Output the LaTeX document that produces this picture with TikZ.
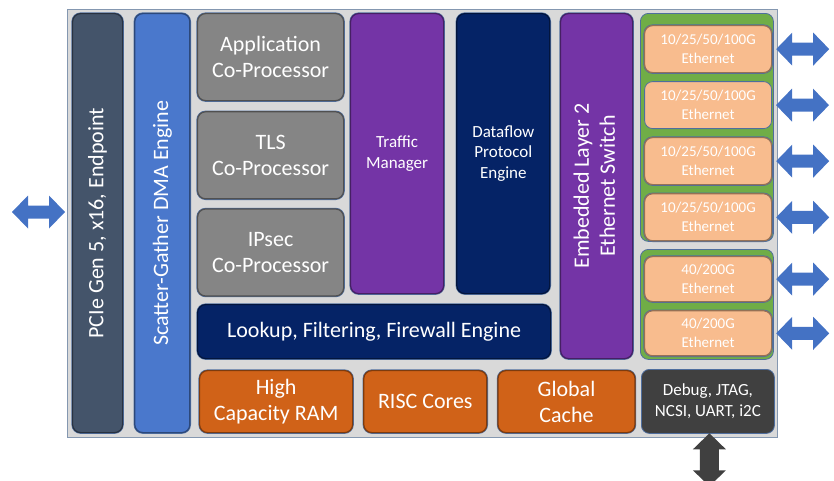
\documentclass[tikz,border=0pt]{standalone}
\usepackage{fontspec}
\setmainfont{Carlito}
\usepackage{graphicx}
\usetikzlibrary{positioning}

\definecolor{chipgray}{HTML}{D9D9D9}
\definecolor{chipedge}{HTML}{8497B0}
\definecolor{edgeblue}{HTML}{4F6E9E}
\definecolor{slate}{HTML}{44546A}
\definecolor{dmablue}{HTML}{4A78CC}
\definecolor{cogray}{HTML}{858585}
\definecolor{tmpurple}{HTML}{7434A6}
\definecolor{navy}{HTML}{052366}
\definecolor{rust}{HTML}{D06218}
\definecolor{portgreen}{HTML}{70AD47}
\definecolor{peach}{HTML}{F8BC8E}
\definecolor{dbggray}{HTML}{404040}
\definecolor{arrowblue}{HTML}{4472C4}

\tikzstyle{block} = [rectangle, rounded corners=8pt, inner sep=0pt, text=white, align=center, fill=#1, draw=#1!60!black, line width=1.2pt, preaction={draw=edgeblue, line width=2.4pt}]
\tikzstyle{flat} = [rectangle, rounded corners=8pt, inner sep=0pt, text=white, align=center, fill=#1, draw=edgeblue, line width=0.8pt]
\tikzstyle{big} = [font=\fontsize{22}{26}\selectfont]
\tikzstyle{mid} = [font=\fontsize{17}{20.5}\selectfont]
\tikzstyle{small} = [font=\fontsize{15}{19}\selectfont]
\tikzset{pics/dblarrow/.style={code={
    \path[pic actions] (-26.5,0) -- (-10.5,16.5) -- (-10.5,#1) -- (10.5,#1) -- (10.5,16.5) -- (26.5,0)
        -- (10.5,-16.5) -- (10.5,-#1) -- (-10.5,-#1) -- (-10.5,-16.5) -- cycle;}}}

\begin{document}
\begin{tikzpicture}[x=1pt, y=-1pt]

    \useasboundingbox (0,0) rectangle (834,480);

    % Chip outline
    \node (chip) [rectangle, fill=chipgray, draw=chipedge, line width=0.8pt, minimum width=710pt, minimum height=428pt, anchor=north west] at (67,9) {};

    % Host side columns
    \node (pcie) [block=slate, big, minimum width=50pt, minimum height=419pt, anchor=north west] at (72,13) {\rotatebox{90}{PCIe Gen 5, x16, Endpoint}};
    \node (dma) [block=dmablue, big, minimum width=55pt, minimum height=419pt, right=11pt of pcie] {\rotatebox{90}{Scatter-Gather DMA Engine}};

    % Co-processors
    \node (app) [block=cogray, big, minimum width=146pt, minimum height=87pt, anchor=north west] at (197,13) {Application\\Co-Processor};
    \node (tls) [block=cogray, big, minimum width=146pt, minimum height=87pt, below=10pt of app] {TLS\\Co-Processor};
    \node (ipsec) [block=cogray, big, minimum width=146pt, minimum height=87pt, below=9pt of tls] {IPsec\\Co-Processor};

    \node (traffic) [block=tmpurple, mid, minimum width=93pt, minimum height=280pt, anchor=north west] at (350,13) {Traffic\\Manager};
    \node (dataflow) [block=navy, mid, minimum width=93pt, minimum height=280pt, right=12pt of traffic] {Dataflow\\Protocol\\Engine};
    \node (switch) [block=tmpurple, big, minimum width=72pt, minimum height=345pt, anchor=north west] at (560,13) {\rotatebox{90}{\begin{tabular}{@{}c@{}}Embedded Layer 2\\Ethernet Switch\end{tabular}}};

    \node (lookup) [block=navy, big, minimum width=353pt, minimum height=54pt, anchor=north west] at (197,304) {Lookup, Filtering, Firewall Engine};

    % Memory row
    \node (ram) [block=rust, big, minimum width=153pt, minimum height=62pt, anchor=north west] at (199,370) {High\\Capacity RAM};
    \node (risc) [block=rust, big, minimum width=123pt, minimum height=62pt, right=10pt of ram] {RISC Cores};
    \node (cache) [block=rust, big, minimum width=137pt, minimum height=62pt, right=10pt of risc] {Global\\Cache};

    % Ethernet ports
    \node (fastports) [flat=portgreen, minimum width=133pt, minimum height=228pt, anchor=north west] at (640,13) {};
    \node (eth1) [block=peach, small, minimum width=127pt, minimum height=47pt, anchor=north west] at (644,25) {10/25/50/100G\\Ethernet};
    \node (eth2) [flat=peach, small, minimum width=127pt, minimum height=47pt, below=8pt of eth1] {10/25/50/100G\\Ethernet};
    \node (eth3) [block=peach, small, minimum width=127pt, minimum height=47pt, below=8pt of eth2] {10/25/50/100G\\Ethernet};
    \node (eth4) [block=peach, small, minimum width=127pt, minimum height=47pt, below=8pt of eth3] {10/25/50/100G\\Ethernet};

    \node (wideports) [flat=portgreen, minimum width=133pt, minimum height=110pt, anchor=north west] at (640,249) {};
    \node (eth5) [block=peach, small, minimum width=127pt, minimum height=45pt, anchor=north west] at (644,256) {40/200G\\Ethernet};
    \node (eth6) [block=peach, small, minimum width=127pt, minimum height=45pt, below=8pt of eth5] {40/200G\\Ethernet};

    \node (debug) [flat=dbggray, mid, minimum width=133pt, minimum height=64pt, anchor=north west] at (641,369) {Debug, JTAG,\\NCSI, UART, i2C};

    % External links
    \pic [fill=arrowblue] at (38.5,212) {dblarrow=6.5};
    \foreach \p in {eth1,eth2,eth3,eth4,eth5,eth6}
        \pic [fill=arrowblue] at ([xshift=30.5pt]\p.east) {dblarrow=6.5};
    \pic [fill=dbggray, rotate=90] at ([xshift=1.5pt, yshift=-26pt]debug.south) {dblarrow=9.5};

\end{tikzpicture}
\end{document}
